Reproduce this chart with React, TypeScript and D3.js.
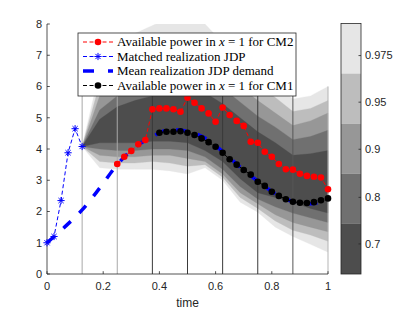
import React from 'react';
import * as d3 from 'd3';

// fan chart grid (time) and quantile band limits
const fanT = [0.125, 0.1875, 0.25, 0.3125, 0.375, 0.4375, 0.5, 0.5625, 0.625, 0.6875, 0.75, 0.8125, 0.875, 0.9375, 1];
const up975 = [4.08, 6.5, 7.2, 7.7, 7.95, 8.2, 8.3, 8.0, 7.4, 6.95, 6.5, 6.1, 5.6, 5.7, 6.0];
const up95 = [4.08, 6.1, 6.8, 7.2, 7.45, 7.55, 7.7, 7.7, 7.05, 6.5, 6.05, 5.65, 5.2, 5.3, 5.55];
const up9 = [4.08, 5.7, 6.3, 6.7, 6.95, 7.1, 7.15, 7.0, 6.45, 6.0, 5.55, 5.15, 4.75, 4.9, 5.15];
const up8 = [4.08, 5.25, 5.7, 6.05, 6.3, 6.45, 6.5, 6.35, 5.95, 5.5, 5.05, 4.7, 4.3, 4.4, 4.6];
const up7 = [4.08, 4.95, 5.35, 5.55, 5.7, 5.85, 5.9, 5.8, 5.45, 5.0, 4.55, 4.2, 3.8, 3.85, 3.95];
const lo7 = [4.08, 4.2, 4.2, 4.2, 4.25, 4.25, 4.2, 3.95, 3.6, 3.05, 2.6, 2.45, 2.3, 2.1, 1.95];
const lo8 = [4.08, 4.0, 3.95, 3.95, 4.0, 4.0, 3.95, 3.75, 3.35, 2.8, 2.4, 2.15, 1.95, 1.8, 1.65];
const lo9 = [4.08, 3.8, 3.75, 3.75, 3.8, 3.8, 3.7, 3.6, 3.2, 2.6, 2.25, 1.9, 1.65, 1.5, 1.35];
const lo95 = [4.08, 3.6, 3.55, 3.55, 3.6, 3.55, 3.45, 3.5, 3.1, 2.45, 2.1, 1.7, 1.4, 1.25, 1.05];
const lo975 = [4.08, 3.4, 3.35, 3.35, 3.35, 3.3, 3.2, 3.4, 3.0, 2.3, 1.98, 1.5, 1.2, 0.95, 0.7];

const levelLabels = ['0.975', '0.95', '0.9', '0.8', '0.7'];
const levelColors = ['#e6e6e6', '#bdbdbd', '#979797', '#707070', '#4d4d4d'];
const levelUpper = [up975, up95, up9, up8, up7];
const levelLower = [lo975, lo95, lo9, lo8, lo7];
// colorbar tick positions (in band units, 0 = bottom, 5 = top)
const cbTickAt = [4.36, 3.43, 2.49, 1.53, 0.6];

// vertical decision lines
const stageT = [0.125, 0.25, 0.375, 0.5, 0.625, 0.75, 0.875, 1];
const stageColor = ['#a8a8a8', '#a8a8a8', '#3a3a3a', '#3a3a3a', '#3a3a3a', '#3a3a3a', '#555555', '#b5b5b5'];
const stageTop = 6;

// matched realization JDP
const matchedT = [0, 0.025, 0.05, 0.075, 0.1, 0.125];
const matchedV = [1.0, 1.2, 2.35, 3.88, 4.65, 4.08];

// mean realization JDP demand
const meanT = [0, 0.0625, 0.125, 0.1875, 0.25, 0.3125, 0.375, 0.4375, 0.5, 0.5625, 0.625, 0.6875, 0.75, 0.8125, 0.875, 0.9375, 1];
const meanV = [1.0, 1.5, 2.05, 2.75, 3.5, 4.05, 4.4, 4.62, 4.57, 4.35, 3.92, 3.42, 2.97, 2.57, 2.32, 2.25, 2.4];

// available power, CM2 (t = 0.25 .. 1 step 0.025)
const cm2V = [3.52, 3.75, 3.94, 4.15, 4.29, 5.27, 5.3, 5.3, 5.27, 5.19, 5.64, 5.48, 5.3, 5.14, 4.87, 5.33, 5.09, 4.9, 4.74, 4.23, 4.2, 3.91, 3.75, 3.52, 3.35, 3.34, 3.21, 3.14, 3.11, 3.09, 2.71];
// available power, CM1 (t = 0.4 .. 1 step 0.025)
const cm1V = [4.52, 4.55, 4.55, 4.57, 4.52, 4.45, 4.34, 4.22, 4.07, 3.88, 3.67, 3.5, 3.33, 3.18, 2.95, 2.82, 2.63, 2.5, 2.39, 2.31, 2.28, 2.27, 2.3, 2.36, 2.42];

const yTicks = [0, 1, 2, 3, 4, 5, 6, 7, 8];
const xTicks = [0, 0.2, 0.4, 0.6, 0.8, 1];

const W = 415;
const H = 312;
const axisColor = '#262626';
const sans = '"Liberation Sans", Arial, Helvetica, sans-serif';
const serif = '"Liberation Serif", "Times New Roman", serif';

const asteriskPath = (r: number) => {
  const d = r * 0.72;
  return `M${-r},0L${r},0M0,${-r}L0,${r}M${-d},${-d}L${d},${d}M${-d},${d}L${d},${-d}`;
};

export default function App() {
  const x = d3.scaleLinear().domain([0, 1]).range([47, 328]);
  const y = d3.scaleLinear().domain([0, 8]).range([274, 24]);
  const cb = d3.scaleLinear().domain([0, 5]).range([274, 23.5]);

  const band = (upper: number[], lower: number[]) =>
    d3.area<number>()
      .x(d => x(d))
      .y0((_, i) => y(lower[i]))
      .y1((_, i) => y(upper[i]))(fanT) || '';

  const line = d3.line<[number, number]>().x(d => x(d[0])).y(d => y(d[1]));
  const meanLine = d3.line<[number, number]>()
    .x(d => x(d[0]))
    .y(d => y(d[1]))
    .curve(d3.curveMonotoneX);

  const matched: [number, number][] = matchedT.map((t, i) => [t, matchedV[i]]);
  const mean: [number, number][] = meanT.map((t, i) => [t, meanV[i]]);
  const cm2: [number, number][] = cm2V.map((v, i) => [0.25 + i * 0.025, v]);
  const cm1: [number, number][] = cm1V.map((v, i) => [0.4 + i * 0.025, v]);

  // legend
  const lgX = 78, lgY = 33, lgW = 218, lgH = 63;
  const rowY = [42, 56.5, 71, 85.5];
  const sx0 = 83, sx1 = 113, sxm = 98, tx = 117;
  const lgFont = 13;

  return (
    <svg width={W} height={H} style={{ position: 'absolute', left: 0, top: 0, background: '#fff' }}>
      <defs>
        <clipPath id="plotClip">
          <rect x={x(0)} y={y(8)} width={x(1) - x(0) + 2} height={y(0) - y(8)} />
        </clipPath>
      </defs>

      {/* fan of quantile bands */}
      <g clipPath="url(#plotClip)">
        {levelLabels.map((lv, i) => (
          <path key={lv} d={band(levelUpper[i], levelLower[i])} fill={levelColors[i]} stroke={levelColors[i]} strokeWidth={0.3} />
        ))}
      </g>

      {/* stage lines */}
      {stageT.map((t, i) => (
        <line key={t} x1={x(t)} x2={x(t)} y1={y(0)} y2={y(stageTop)} stroke={stageColor[i]} strokeWidth={1} />
      ))}

      {/* axes */}
      <line x1={x(0)} x2={x(0)} y1={y(0)} y2={y(8)} stroke={axisColor} strokeWidth={0.8} />
      <line x1={x(0)} x2={x(1)} y1={y(0)} y2={y(0)} stroke={axisColor} strokeWidth={0.8} />
      {yTicks.map(v => (
        <g key={v}>
          <line x1={x(0)} x2={x(0) + 2.8} y1={y(v)} y2={y(v)} stroke={axisColor} strokeWidth={0.8} />
          <text x={x(0) - 5} y={y(v) + 3.8} textAnchor="end" fontFamily={sans} fontSize={11} fill={axisColor}>{v}</text>
        </g>
      ))}
      {xTicks.map(v => (
        <g key={v}>
          <line x1={x(v)} x2={x(v)} y1={y(0)} y2={y(0) - 2.8} stroke={axisColor} strokeWidth={0.8} />
          <text x={x(v)} y={y(0) + 16} textAnchor="middle" fontFamily={sans} fontSize={11} fill={axisColor}>{v}</text>
        </g>
      ))}
      <text x={(x(0) + x(1)) / 2} y={307} textAnchor="middle" fontFamily={sans} fontSize={12} fill={axisColor}>time</text>

      {/* series */}
      <path d={meanLine(mean) || ''} fill="none" stroke="#0000ff" strokeWidth={3.5} strokeDasharray="10,12" />
      <path d={line(matched) || ''} fill="none" stroke="#0000ff" strokeWidth={1} strokeDasharray="4,2.5" />
      {matched.map((p, i) => (
        <path key={i} d={asteriskPath(3.6)} transform={`translate(${x(p[0])},${y(p[1])})`} stroke="#0000ff" strokeWidth={1} fill="none" />
      ))}
      <path d={line(cm2) || ''} fill="none" stroke="#ff0000" strokeWidth={1} strokeDasharray="4,2.5" />
      {cm2.map((p, i) => (
        <circle key={i} cx={x(p[0])} cy={y(p[1])} r={3.3} fill="#ff0000" />
      ))}
      <path d={line(cm1) || ''} fill="none" stroke="#000" strokeWidth={1} strokeDasharray="4,2.5" />
      {cm1.map((p, i) => (
        <circle key={i} cx={x(p[0])} cy={y(p[1])} r={3.3} fill="#000" />
      ))}

      {/* legend */}
      <rect x={lgX} y={lgY} width={lgW} height={lgH} fill="#fff" stroke={axisColor} strokeWidth={0.8} />
      <line x1={sx0} x2={sx1} y1={rowY[0]} y2={rowY[0]} stroke="#ff0000" strokeWidth={1} strokeDasharray="4,2.5" />
      <circle cx={sxm} cy={rowY[0]} r={3.3} fill="#ff0000" />
      <line x1={sx0} x2={sx1} y1={rowY[1]} y2={rowY[1]} stroke="#0000ff" strokeWidth={1} strokeDasharray="4,2.5" />
      <path d={asteriskPath(3.6)} transform={`translate(${sxm},${rowY[1]})`} stroke="#0000ff" strokeWidth={1} fill="none" />
      <line x1={sx0} x2={sx1} y1={rowY[2]} y2={rowY[2]} stroke="#0000ff" strokeWidth={3.5} strokeDasharray="11,14" />
      <line x1={sx0} x2={sx1} y1={rowY[3]} y2={rowY[3]} stroke="#000" strokeWidth={1} strokeDasharray="4,2.5" />
      <circle cx={sxm} cy={rowY[3]} r={3.3} fill="#000" />
      <g fontFamily={serif} fontSize={lgFont} fill="#000">
        <text x={tx} y={rowY[0] + 4}>Available power in <tspan fontStyle="italic">x</tspan> = 1 for CM2</text>
        <text x={tx} y={rowY[1] + 4}>Matched realization JDP</text>
        <text x={tx} y={rowY[2] + 4}>Mean realization JDP demand</text>
        <text x={tx} y={rowY[3] + 4}>Available power in <tspan fontStyle="italic">x</tspan> = 1 for CM1</text>
      </g>

      {/* colorbar */}
      {levelLabels.map((lv, i) => (
        <rect key={lv} x={341} y={cb(5 - i)} width={20} height={cb(4 - i) - cb(5 - i)} fill={levelColors[i]} />
      ))}
      <rect x={341} y={cb(5)} width={20} height={cb(0) - cb(5)} fill="none" stroke={axisColor} strokeWidth={0.8} />
      {levelLabels.map((lv, i) => (
        <g key={lv}>
          <line x1={361} x2={358.5} y1={cb(cbTickAt[i])} y2={cb(cbTickAt[i])} stroke={axisColor} strokeWidth={0.8} />
          <text x={365} y={cb(cbTickAt[i]) + 3.8} fontFamily={sans} fontSize={11} fill={axisColor}>{lv}</text>
        </g>
      ))}
    </svg>
  );
}
